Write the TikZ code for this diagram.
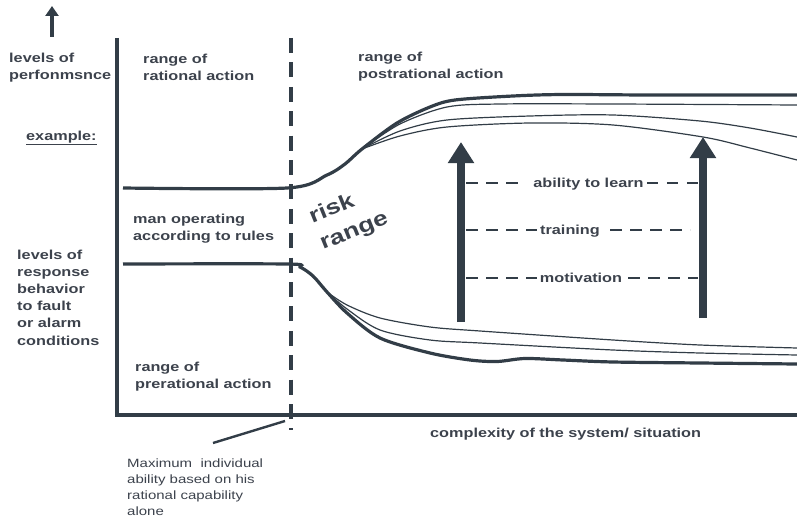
\documentclass[tikz,border=0pt]{standalone}
\usepackage{fontspec}
\setmainfont{Liberation Sans}[FakeStretch=1.25]
\usetikzlibrary{arrows.meta}

\definecolor{ink}{RGB}{50,61,71}
\definecolor{txt}{RGB}{60,66,76}

\begin{document}
\begin{tikzpicture}[x=1pt,y=-1pt,
    lbl/.style={font=\fontsize{13}{16.5}\selectfont\bfseries, text=txt, inner sep=0pt, align=left},
    note/.style={font=\fontsize{12}{16}\selectfont, text=txt, inner sep=0pt, align=left},
    heavy/.style={ink, line width=3.2pt},
    thin/.style={ink, line width=1.2pt},
    guide/.style={ink, line width=2.4pt, dash pattern=on 11.7pt off 8.3pt},
    bigarrow/.style={ink, line width=8pt, -{Triangle[width=25pt,length=21pt]}}]
        \useasboundingbox (0,0) rectangle (797,519);
        %
        % axes and the limit of rational action
        \coordinate (up0) at (52,37);
        \coordinate (up1) at (52,6);
        \draw [ink, line width=3.5pt, -{Triangle[width=13pt,length=10pt]}] (up0) -- (up1);
        \draw [heavy] (117,38) -- (117,415) -- (797,415);
        \draw [ink, line width=3.6pt, dash pattern=on 15pt off 9.4pt] (291,38) -- (291,430);
        %
        % upper band: performance
        \draw [heavy] plot [smooth] coordinates {(123,188) (287,188) (327,175) (345,164) (362,149)
            (397,123) (430,107) (455,100) (513,96) (563,94.5) (650,95) (797,95)};
        \draw [thin] plot [smooth] coordinates {(362,149) (400,124) (447,107) (500,104) (613,104) (797,105)};
        \draw [thin] plot [smooth] coordinates {(362,149) (400,131) (447,120) (530,116) (613,115) (700,121) (750,128) (797,137)};
        \draw [thin] plot [smooth] coordinates {(362,149) (400,136) (447,127) (530,123) (613,125) (703,137) (750,148) (797,160)};
        %
        % lower band: response behaviour
        \draw [heavy] plot [smooth] coordinates {(123,264) (287,264) (300,267) (313,276) (327,292) (347,313)
            (380,338) (430,353) (470,360) (497,361.5) (525,358.5) (563,360) (613,362) (700,363) (797,364)};
        \draw [thin] plot [smooth] coordinates {(327,292) (347,305) (380,318) (430,327) (480,331) (613,340) (700,345) (797,348)};
        \draw [thin] plot [smooth] coordinates {(327,292) (347,309) (380,330) (430,340) (480,343) (613,350) (700,353) (797,355)};
        %
        % the two arrows
        \coordinate (lbot) at (461,322);
        \coordinate (ltop) at (461,142);
        \coordinate (rbot) at (703,318);
        \coordinate (rtop) at (703,137);
        \draw [bigarrow] (lbot) -- (ltop);
        \draw [bigarrow] (rbot) -- (rtop);
        %
        \node [lbl, anchor=base] (learn) at (588.5,187) {ability to learn};
        \node [lbl, anchor=base] (train) at (570,234) {training};
        \node [lbl, anchor=base] (motiv) at (581,282) {motivation};
        \coordinate (l1) at (466,183);
        \coordinate (r1) at (698,183);
        \coordinate (l2) at (466,230);
        \coordinate (r2) at (690,230);
        \coordinate (l3) at (466,278);
        \coordinate (r3) at (698,278);
        \draw [guide] (l1) -- ([xshift=-14pt]l1 -| learn.west);
        \draw [guide] ([xshift=3pt]r1 -| learn.east) -- (r1);
        \draw [guide] (l2) -- ([xshift=-3pt]l2 -| train.west);
        \draw [guide] ([xshift=10pt]r2 -| train.east) -- (r2);
        \draw [guide] (l3) -- ([xshift=-3pt]l3 -| motiv.west);
        \draw [guide] ([xshift=6pt]r3 -| motiv.east) -- (r3);
        %
        % texts (base = last line)
        \node [lbl, anchor=base west] (perf) at (9,79) {levels of\\perfonmsnce};
        \node [lbl, anchor=base west] (ratio) at (143,80) {range of\\rational action};
        \node [lbl, anchor=base west] (post) at (358,78) {range of\\postrational action};
        \node [lbl, anchor=base west] (ex) at (26,140) {\underline{example:}};
        \node [lbl, anchor=base west] (rules) at (133,240) {man operating\\according to rules};
        \node [lbl, anchor=base west, font=\fontsize{13}{17.2}\selectfont\bfseries] (resp) at (17,345) {levels of\\response\\behavior\\to fault\\or alarm\\conditions};
        \node [lbl, anchor=base west] (pre) at (135,388) {range of\\prerational action};
        \node [lbl, anchor=base west, font=\fontsize{21}{29}\selectfont\bfseries, rotate=22] (risk) at (323,250) {risk\\range};
        \node [lbl, anchor=base west] (cplx) at (430,437) {complexity of the system/ situation};
        %
        \node [note, anchor=base west] (maxab) at (127,515) {Maximum~ individual\\ability based on his\\rational capability\\alone};
        \coordinate (tick) at (285,421);
        \coordinate (lead) at (213,443);
        \draw [ink, line width=2.4pt] (tick) -- (lead);
      \end{tikzpicture}
\end{document}
